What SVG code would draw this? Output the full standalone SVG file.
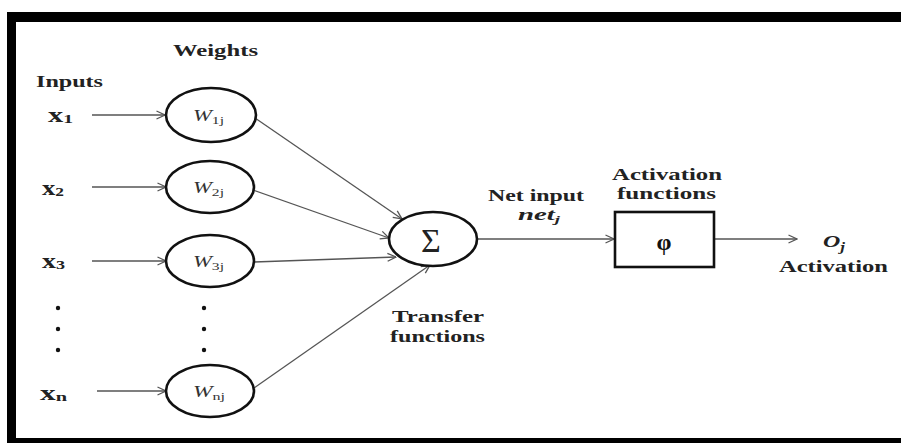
<svg xmlns="http://www.w3.org/2000/svg" width="901" height="443" viewBox="0 0 901 443">
<defs>
<style>
.lbl{font-family:"Liberation Serif","Times New Roman",serif;font-weight:bold;font-size:17px;fill:#222}
.xin{font-family:"Liberation Serif","Times New Roman",serif;font-weight:bold;font-size:20px;fill:#222}
.w{font-family:"Liberation Serif","Times New Roman",serif;font-style:italic;font-size:16px;fill:#333}
.sub{font-style:normal;font-size:11px}
.node{fill:#fff;stroke:#111;stroke-width:2.6}
.conn{stroke:#555;stroke-width:1.3;fill:none;marker-end:url(#ah)}
.dot{fill:#111}
</style>
<marker id="ah" viewBox="0 0 10 10" refX="9.5" refY="5" markerWidth="10" markerHeight="10" markerUnits="userSpaceOnUse" orient="auto">
<path d="M1,1 L9.5,5 L1,9" fill="none" stroke="#555" stroke-width="1.3"/>
</marker>
</defs>
<rect width="901" height="443" fill="#fff"/>
<g id="frame">
<rect x="7" y="12" width="894" height="10" fill="#000"/>
<rect x="7" y="12" width="9" height="431" fill="#000"/>
<rect x="7" y="438" width="894" height="5" fill="#000"/>
</g>
<g id="connectors">
<line class="conn" x1="92" y1="115" x2="165" y2="115"/>
<line class="conn" x1="92" y1="187" x2="166" y2="187"/>
<line class="conn" x1="92" y1="261" x2="166" y2="261"/>
<line class="conn" x1="97" y1="391" x2="166" y2="391"/>
<line class="conn" x1="255" y1="118" x2="402" y2="219"/>
<line class="conn" x1="253" y1="190" x2="389" y2="238"/>
<line class="conn" x1="254" y1="262" x2="396" y2="257"/>
<line class="conn" x1="254" y1="388" x2="430" y2="265"/>
<line class="conn" x1="477" y1="239" x2="614" y2="239"/>
<line class="conn" x1="714" y1="239" x2="797" y2="239"/>
</g>
<g id="labels">
<text class="lbl" x="173" y="56" textLength="85" lengthAdjust="spacingAndGlyphs">Weights</text>
<text class="lbl" x="36" y="87" textLength="67" lengthAdjust="spacingAndGlyphs">Inputs</text>
<text class="lbl" x="488" y="201" textLength="96" lengthAdjust="spacingAndGlyphs">Net input</text>
<text class="lbl" x="518" y="220" textLength="42" lengthAdjust="spacingAndGlyphs" font-style="italic">net<tspan font-size="11" dy="3">j</tspan></text>
<text class="lbl" x="392" y="322" textLength="92" lengthAdjust="spacingAndGlyphs">Transfer</text>
<text class="lbl" x="390" y="342" textLength="95" lengthAdjust="spacingAndGlyphs">functions</text>
<text class="lbl" x="612" y="180" textLength="110" lengthAdjust="spacingAndGlyphs">Activation</text>
<text class="lbl" x="617" y="199" textLength="99" lengthAdjust="spacingAndGlyphs">functions</text>
<text class="lbl" x="779" y="272" textLength="109" lengthAdjust="spacingAndGlyphs">Activation</text>
<text class="lbl" x="823" y="247" font-style="italic" font-size="20" textLength="22" lengthAdjust="spacingAndGlyphs">O<tspan font-size="12" dy="4">j</tspan></text>
</g>
<g id="inputs">
<text class="xin" x="48" y="122" textLength="25" lengthAdjust="spacingAndGlyphs">x<tspan font-size="13" dy="1">1</tspan></text>
<text class="xin" x="42" y="195" textLength="22" lengthAdjust="spacingAndGlyphs">x<tspan font-size="13" dy="1">2</tspan></text>
<text class="xin" x="42" y="268" textLength="23" lengthAdjust="spacingAndGlyphs">x<tspan font-size="13" dy="1">3</tspan></text>
<text class="xin" x="40" y="400" textLength="27" lengthAdjust="spacingAndGlyphs">x<tspan font-size="13" dy="1">n</tspan></text>
<circle class="dot" cx="58" cy="308" r="2.2"/>
<circle class="dot" cx="58" cy="329" r="2.2"/>
<circle class="dot" cx="58" cy="350" r="2.2"/>
</g>
<g id="w1">
<ellipse class="node" cx="211" cy="115" rx="45" ry="27"/>
<text class="w" x="193" y="121" textLength="31" lengthAdjust="spacingAndGlyphs">W<tspan class="sub" dy="3">1j</tspan></text>
</g>
<g id="w2">
<ellipse class="node" cx="210" cy="187" rx="44" ry="26"/>
<text class="w" x="193" y="193" textLength="31" lengthAdjust="spacingAndGlyphs">W<tspan class="sub" dy="3">2j</tspan></text>
</g>
<g id="w3">
<ellipse class="node" cx="210" cy="261" rx="44" ry="26"/>
<text class="w" x="193" y="267" textLength="31" lengthAdjust="spacingAndGlyphs">W<tspan class="sub" dy="3">3j</tspan></text>
</g>
<g id="wdots">
<circle class="dot" cx="204" cy="308" r="2.2"/>
<circle class="dot" cx="204" cy="329" r="2.2"/>
<circle class="dot" cx="204" cy="350" r="2.2"/>
</g>
<g id="wn">
<ellipse class="node" cx="210" cy="391" rx="44" ry="26"/>
<text class="w" x="193" y="397" textLength="32" lengthAdjust="spacingAndGlyphs">W<tspan class="sub" dy="3">nj</tspan></text>
</g>
<g id="sum">
<ellipse class="node" cx="433" cy="239" rx="44" ry="27"/>
<text x="431" y="252" text-anchor="middle" font-family="'Liberation Serif','Times New Roman',serif" font-size="34" fill="#222">Σ</text>
</g>
<g id="phi">
<rect class="node" x="615" y="212" width="99" height="55"/>
<text x="664" y="250" text-anchor="middle" font-family="'Liberation Serif','Times New Roman',serif" font-weight="bold" font-size="24" fill="#111">φ</text>
</g>
</svg>
